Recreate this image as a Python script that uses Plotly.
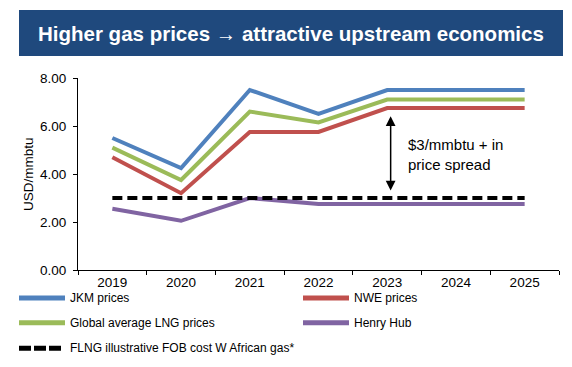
import plotly.graph_objects as go

years = ["2019", "2020", "2021", "2022", "2023", "2024", "2025"]
jkm = [5.5, 4.25, 7.5, 6.5, 7.5, 7.5, 7.5]
nwe = [4.7, 3.2, 5.75, 5.75, 6.75, 6.75, 6.75]
glng = [5.1, 3.75, 6.6, 6.15, 7.1, 7.1, 7.1]
henry = [2.55, 2.05, 3.0, 2.75, 2.75, 2.75, 2.75]
flng = [3.0, 3.0, 3.0, 3.0, 3.0, 3.0, 3.0]

names = ["JKM prices", "NWE prices", "Global average LNG prices", "Henry Hub",
         "FLNG illustrative FOB cost W African gas*"]
colors = ["#4F81BD", "#C0504D", "#9BBB59", "#8064A2", "#000000"]
series = [jkm, nwe, glng, henry, flng]

FONT = "Arial, Liberation Sans, sans-serif"
W, H = 572, 367
L, R, T, B = 78, 13, 78, 97
PW, PH = W - L - R, H - T - B


def px(xp):
    return (xp - L) / PW


def py(yp):
    return (H - B - yp) / PH


fig = go.Figure()
for name, col, vals in zip(names, colors, series):
    dash = "10px,5px" if name.startswith("FLNG") else "solid"
    fig.add_trace(go.Scatter(x=years, y=vals, mode="lines", name=name,
                             line=dict(color=col, width=4, dash=dash),
                             showlegend=False, hoverinfo="skip"))

shapes = []
annotations = []

# title banner
shapes.append(dict(type="rect", xref="paper", yref="paper",
                   x0=px(19), x1=px(563), y0=py(56), y1=py(10),
                   fillcolor="#1F497D", line=dict(width=0), layer="below"))
annotations.append(dict(xref="paper", yref="paper", x=px(291), y=py(33),
                        text="<b>Higher gas prices \u2192 attractive upstream economics</b>",
                        showarrow=False, xanchor="center", yanchor="middle",
                        font=dict(family=FONT, size=20.5, color="white")))

# y axis title
annotations.append(dict(xref="paper", yref="paper", x=px(28), y=py(174),
                        text="USD/mmbtu", textangle=-90, showarrow=False,
                        xanchor="center", yanchor="middle",
                        font=dict(family=FONT, size=13.5, color="black")))

# spread arrow
annotations.append(dict(x=4.05, y=3.31, ax=4.05, ay=6.47, xref="x", yref="y",
                        axref="x", ayref="y", text="", showarrow=True,
                        arrowhead=2, startarrowhead=2, arrowside="end+start",
                        arrowsize=1.3, startarrowsize=1.3, arrowwidth=1.5,
                        arrowcolor="black"))
annotations.append(dict(xref="paper", yref="paper", x=px(406), y=py(154),
                        text="$3/mmbtu + in<br>price spread", showarrow=False,
                        xanchor="left", yanchor="middle", align="left",
                        font=dict(family=FONT, size=15, color="black")))

# manual legend
leg = [
    (names[0], colors[0], "solid", 19, 65, 298, 68),
    (names[1], colors[1], "solid", 303, 349, 298, 352),
    (names[2], colors[2], "solid", 19, 65, 322.7, 68),
    (names[3], colors[3], "solid", 303, 349, 322.7, 352),
    (names[4], colors[4], "12px,3px", 19, 62, 348.3, 68),
]
for name, col, dash, x0, x1, yy, tx in leg:
    shapes.append(dict(type="line", xref="paper", yref="paper",
                       x0=px(x0), x1=px(x1), y0=py(yy), y1=py(yy),
                       line=dict(color=col, width=5, dash=dash)))
    annotations.append(dict(xref="paper", yref="paper", x=px(tx), y=py(yy),
                            text=name, showarrow=False, xanchor="left",
                            yanchor="middle",
                            font=dict(family=FONT, size=12, color="black")))

fig.update_layout(
    width=W, height=H,
    margin=dict(l=L, r=R, t=T, b=B),
    paper_bgcolor="white", plot_bgcolor="white",
    showlegend=False,
    shapes=shapes, annotations=annotations,
    font=dict(family=FONT, color="black"),
    xaxis=dict(type="category", categoryorder="array", categoryarray=years,
               range=[-0.5, len(years) - 0.5],
               showline=True, linecolor="black", linewidth=1,
               ticks="outside", tickson="boundaries", ticklen=4,
               tickcolor="black", showgrid=False, zeroline=False,
               tickfont=dict(family=FONT, size=13.5, color="black"),
               fixedrange=True),
    yaxis=dict(range=[0, 8], dtick=2, tickformat=".2f",
               showline=True, linecolor="black", linewidth=1,
               ticks="outside", ticklen=4, tickcolor="black",
               showgrid=False, zeroline=False, ticklabelstandoff=4,
               tickfont=dict(family=FONT, size=13.5, color="black"),
               fixedrange=True),
)

fig.write_html("out.html",
               config={"displayModeBar": False},
               post_script="document.body.style.margin='0';"
                           "document.body.style.overflow='hidden';")
